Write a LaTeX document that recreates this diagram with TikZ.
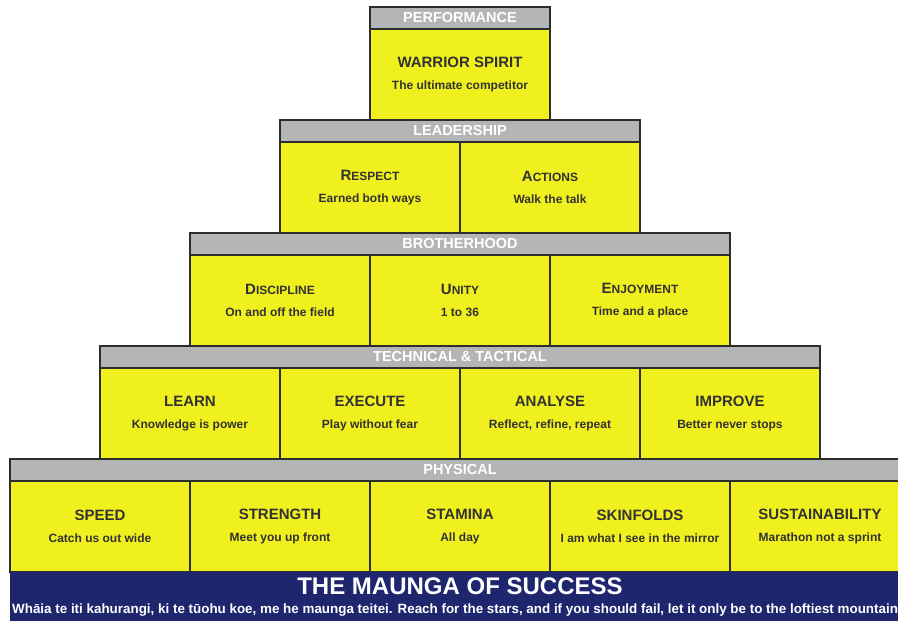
\documentclass[tikz,border=0pt]{standalone}
\usepackage{fontspec}
\setmainfont{Liberation Sans}
\usepackage{tikz}

\definecolor{pyellow}{RGB}{240,240,30}
\definecolor{bandgray}{RGB}{180,182,182}
\definecolor{edge}{RGB}{45,45,45}
\definecolor{ink}{RGB}{50,50,50}
\definecolor{navy}{RGB}{30,38,110}

\newcommand{\hd}[1]{{\fontsize{15}{18}\selectfont #1}}
\newcommand{\fsc}[2]{{\fontsize{15}{18}\selectfont #1}{\fontsize{12}{14}\selectfont #2}}

\begin{document}
\begin{tikzpicture}[x=1pt, y=-1pt]
    \tikzstyle{cell} = [rectangle, draw=edge, line width=1.2pt, fill=pyellow, minimum width=180pt, minimum height=91pt, inner sep=0pt, align=center, text=ink, font=\bfseries\fontsize{12}{15}\selectfont]
    \tikzstyle{band} = [rectangle, draw=edge, line width=1.2pt, fill=bandgray, minimum height=22pt, inner sep=0pt, text=white, font=\bfseries\fontsize{14.5}{16}\selectfont]

    \clip (0,0) rectangle (898,621);
    \fill[white] (0,0) rectangle (898,621);

    % Performance
    \node[band, minimum width=180pt] (perf) at (460,18) {PERFORMANCE};
    \node[cell] (warrior) at (460,74.5) {\hd{WARRIOR SPIRIT}\\[7pt]The ultimate competitor};

    % Leadership
    \node[band, minimum width=360pt] (lead) at (460,131) {LEADERSHIP};
    \node[cell] (respect) at (370,187.5) {\fsc{R}{ESPECT}\\[7pt]Earned both ways};
    \node[cell] (actions) at (550,187.5) {\fsc{A}{CTIONS}\\[7pt]Walk the talk};

    % Brotherhood
    \node[band, minimum width=540pt] (broth) at (460,244) {BROTHERHOOD};
    \node[cell] (discip) at (280,300.5) {\fsc{D}{ISCIPLINE}\\[7pt]On and off the field};
    \node[cell] (unity) at (460,300.5) {\fsc{U}{NITY}\\[7pt]1 to 36};
    \node[cell] (enjoy) at (640,300.5) {\fsc{E}{NJOYMENT}\\[7pt]Time and a place};

    % Technical & tactical
    \node[band, minimum width=720pt] (tech) at (460,357) {TECHNICAL \& TACTICAL};
    \node[cell] (learn) at (190,413.5) {\hd{LEARN}\\[7pt]Knowledge is power};
    \node[cell] (execute) at (370,413.5) {\hd{EXECUTE}\\[7pt]Play without fear};
    \node[cell] (analyse) at (550,413.5) {\hd{ANALYSE}\\[7pt]Reflect, refine, repeat};
    \node[cell] (improve) at (730,413.5) {\hd{IMPROVE}\\[7pt]Better never stops};

    % Physical
    \node[band, minimum width=900pt] (phys) at (460,470) {PHYSICAL};
    \node[cell] (speed) at (100,526.5) {\hd{SPEED}\\[7pt]Catch us out wide};
    \node[cell] (strength) at (280,526.5) {\hd{STRENGTH}\\[7pt]Meet you up front};
    \node[cell] (stamina) at (460,526.5) {\hd{STAMINA}\\[7pt]All day};
    \node[cell] (skin) at (640,526.5) {\hd{SKINFOLDS}\\[7pt]I am what I see in the mirror};
    \node[cell] (sustain) at (820,526.5) {\hd{SUSTAINABILITY}\\[7pt]Marathon not a sprint};

    % Banner
    \fill[navy] (10,572) rectangle (910,621);
    \node[text=white, font=\bfseries\fontsize{24}{26}\selectfont] (title) at (460,586) {THE MAUNGA OF SUCCESS};
    \node[anchor=base west, inner sep=0pt, text=white, font=\bfseries\fontsize{13.4}{15}\selectfont] (motto) at (12,613) {Whāia te iti kahurangi, ki te tūohu koe, me he maunga teitei. Reach for the stars, and if you should fail, let it only be to the loftiest mountain};

\end{tikzpicture}
\end{document}
